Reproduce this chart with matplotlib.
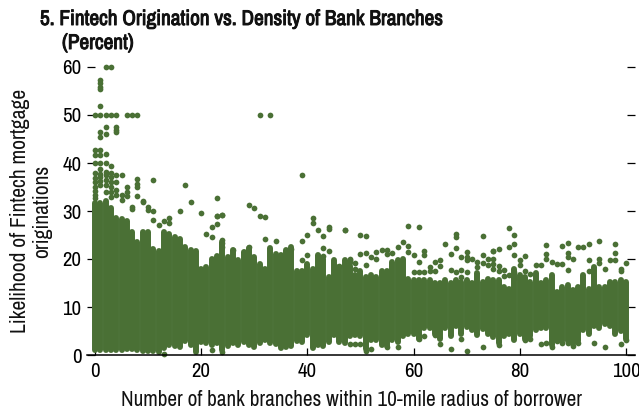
import matplotlib
matplotlib.use("Agg")
import matplotlib.pyplot as plt
import matplotlib.patheffects as pe

branches = list(range(101))
band_high = [31.6,31.6,32,30.6,28.6,28.4,28,25.6,23.6,25.6,25.6,22,21.6,25.6,25.2,24.6,24.2,22.6,21.8,21.6,18,18.3,20,20.6,23.6,
             20.4,21.8,19.7,21.5,22.2,20.4,19,18,22.2,21.1,20.8,21.8,22.5,17.6,17.6,19,18,20.8,20,16.3,19.7,18.4,19.7,18.6,16.6,
             17.6,16.3,16.6,16.3,17.6,17.6,19.4,19.7,20,15.9,15.6,15.6,15.6,15.6,14.9,14.9,15.6,14.9,15.6,15.2,15.6,14.9,17,15.2,15.9,15.6,
             15.6,14.2,13.8,18,16.6,16.3,15.2,17,14.9,15.6,16.6,13.1,14.2,14.5,13.5,14.2,16.6,13.8,18.3,14.2,14.2,15.2,15.2,15.6,15.2]
band_low = [1.1,1,1,1,1,1,1.2,1.2,1,0.8,0.8,0.8,0.6,1.5,2,1.8,1.6,3,2,0.6,2.7,2.4,2,2.5,1,
            1.8,2.4,2.1,2.8,2.1,1.6,2.4,3.2,2.4,2.3,1.4,1.6,1.8,3,2.7,4.2,1.4,2.1,1.8,2.8,4.2,2.7,2.4,3.9,4.2,
            3.9,1.3,3.2,3.2,2.1,1.8,3.2,2.8,3.9,4.3,4.4,3.4,5.6,5.6,4.4,3.4,5.6,3.9,6.1,4.4,5.9,5.2,4.1,5.4,4.4,3.7,
            2.4,3.9,4.3,3.2,4.3,3.4,3.9,5.3,5.7,5.7,2.1,3.4,3,3,2.3,3,5.3,4.3,6.1,5.7,6.4,6.1,4.3,5,3.4]

out_x = [2,3,1,1,1,1,1,0,1,2,3,4,6,7,8,2,1,2,1,4,4,4,31,33,
         0,0,0,1,1,1,2,2,3,1,1,1,1,1,2,2,2,2,3,3,3,3,4,4,4,4,5,5,5,6,6,6,7,7,8,8,8,8,9,9,10,10,11,11,11,12,13,14,14,
         0,0,0,0,0,0,0,2,3,3,
         17,18,23,29,30,39,16,20,21,22,22,23,24,23,23,24,31,32,41,41,42,43,44,44,47,32,34,40,39,43,44,24,24,24,26,28,29,36,37,40,39,42,43,46,48,49,
         47,50,51,59,61,66,68,68,73,68,67,69,70,70,70,71,72,72,73,73,74,74,75,62,62,60,59,59,58,57,56,55,55,54,53,53,52,51,51,50,49,48,48,61,64,65,65,63,63,64,60,61,62,67,68,69,69,70,
         67,70,73,65,69,64,62,61,51,52,49,48,50,57,55,13,22,24,
         78,79,79,78,75,76,79,81,80,80,85,85,85,88,89,89,89,90,91,92,93,93,95,95,95,98,98,98,97,96,100,99,99,86,87,88,84,83,82,81,89,75,75,75,76,76,77,77,78,79,79,93,
         84,85,86,87,88,89,90,91,94,96,99,100,76,82,81]
out_y = [60,60,57.2,56.6,55.9,55.4,51.9,50,50,50,50,50,50,50,50,47.5,46.4,46,45.4,47.4,46.8,46.4,50,50,
         42.8,41.7,40,42.8,41.7,40,41.9,40,39.3,38.7,37.8,37,36.2,35.4,38.2,37.4,36.4,35.4,38,37,36,35,37.5,36.1,34.4,33.4,37.5,33.4,32.3,35,34,33.2,30.4,30.8,36.6,35.6,34.9,33.2,31.9,32,30.9,30.2,36.5,29.9,28.1,27,27.9,28.5,27.4,
         36,35,34.2,33.4,32.8,36.8,38,34,34,33,
         35.4,31.8,32.8,31.2,30.7,37.4,29.9,29.5,25.3,26.6,24.5,29,29.2,29,27.3,29.2,28.9,28.7,28.5,27.5,26,24.7,26.6,26.3,26,24.1,23.8,24.9,23.8,22.2,21.7,24,23.3,22.6,21.9,21.5,22.4,21.6,22,20.8,19.8,20.6,20.6,18.5,19.8,18,
         26,24.9,24.7,26.9,26.6,23.2,25.2,24.5,24.8,22.2,21,20.5,21.4,20.5,19.8,20,19.4,18.4,20.8,19.2,20.1,18.8,21.7,21.7,20.8,20.9,22.8,21.5,23.5,22.4,21.3,21.9,21,21.9,21.4,20.1,20.5,21.3,18.8,21,19.2,20,19.4,19.3,19.4,19.7,18.5,18.3,17.4,17.4,17.3,17.3,17.3,17.7,17.3,17.8,16.3,17.2,
         1.2,0.8,1.7,2.2,3.4,4.2,3.9,3.4,0.9,1.2,2.2,2.2,2.2,1.6,1.6,0.3,1.1,0.7,
         26.4,24.9,23.1,22.4,21.7,22.1,20.9,20.6,19.8,18.8,22.9,21,19.9,22.7,23.3,21.2,20.5,19.9,22.4,22.4,23.1,19.7,23.8,20.1,19.2,23.1,21.3,19.8,19.7,18,19.1,18,17.4,19.3,18.9,19,18.7,18.7,16.9,17.6,17.8,20.1,19,18,18.5,17.5,17.8,16.4,16.6,17.2,16.1,17.4,
         2.2,2.6,1.7,3,2.6,2.6,1.9,2.6,2.4,1.7,2.2,3.1,2,3.4,3.1]

x_ticks = [0,20,40,60,80,100]
y_ticks = [0,10,20,30,40,50,60]
title_1 = "5. Fintech Origination vs. Density of Bank Branches"
title_2 = "(Percent)"
x_label = "Number of bank branches within 10-mile radius of borrower"
y_label = "Likelihood of Fintech mortgage\noriginations"

GREEN = "#4A7035"
plt.rcParams['font.family'] = ['Archivo Narrow', 'Roboto Condensed', 'Liberation Sans', 'DejaVu Sans']

W, H = 639, 411
fig = plt.figure(figsize=(W/100, H/100), dpi=100)
ax = fig.add_axes([87/W, (H-355)/H, (635-87)/W, (355-67)/H])
ax.set_xlim(-1.5, 101.7)
ax.set_ylim(0, 60)

vl = ax.vlines(branches, band_low, band_high, colors=GREEN, linewidth=4.3, zorder=3, clip_on=False)
vl.set_capstyle('round')
ax.scatter(out_x, out_y, s=17, color=GREEN, linewidths=0, zorder=3, clip_on=False)

for s in ['top','left','right']:
    ax.spines[s].set_visible(False)
ax.spines['bottom'].set_linewidth(1.1)
ax.spines['bottom'].set_zorder(4)
ax.set_xticks(x_ticks)
ax.set_yticks(y_ticks)
ax.tick_params(axis='x', direction='in', length=5, width=0.9, labelsize=15, pad=5)
ax.tick_params(axis='y', direction='in', length=6, width=0.9, labelsize=15, pad=4, left=True, right=True)

bold = [pe.withStroke(linewidth=0.7, foreground='#111111')]
fig.text(40/W, 1-25/H, title_1, fontsize=15.3, color='#111111', ha='left', va='baseline', path_effects=bold)
fig.text(62/W, 1-49/H, title_2, fontsize=15.3, color='#111111', ha='left', va='baseline', path_effects=bold)
fig.text(351/W, 1-400/H, x_label, fontsize=15.3, color='#111111', ha='center', va='center')
fig.text(31/W, 1-211/H, y_label, fontsize=15.5, color='#111111', ha='center', va='center', rotation=90, linespacing=1.1, multialignment='center')

fig.savefig("out.png", dpi=100)
